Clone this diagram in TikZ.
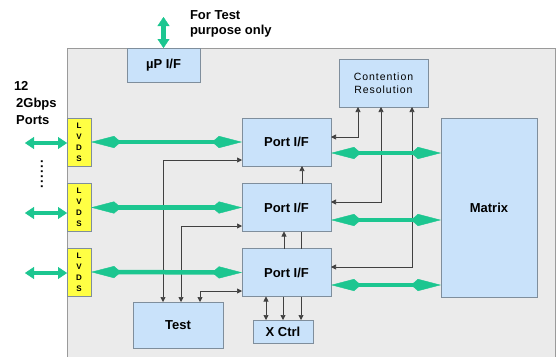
\documentclass[tikz,border=0pt]{standalone}
\usepackage{fontspec}
\setmainfont{Liberation Sans}
\usetikzlibrary{arrows.meta,calc}
\definecolor{bgc}{HTML}{EBEBEB}
\definecolor{bgline}{HTML}{9A9A9A}
\definecolor{boxfill}{HTML}{C9E2FA}
\definecolor{boxline}{HTML}{7F8E9C}
\definecolor{lvdsfill}{HTML}{FFFF44}
\definecolor{gr}{HTML}{1CC690}
\definecolor{tline}{HTML}{404040}
\begin{document}
\begin{tikzpicture}[x=1pt,y=-1pt,
  box/.style={draw=boxline,fill=boxfill,line width=0.8pt,inner sep=0pt,outer sep=0pt,
    font=\bfseries\fontsize{13}{14}\selectfont},
  lvds/.style={draw=boxline,fill=lvdsfill,line width=0.8pt,inner sep=0pt,outer sep=0pt,
    minimum width=24pt,minimum height=48pt,align=center,
    font=\bfseries\fontsize{8}{11}\selectfont},
  lbl/.style={inner sep=0pt,outer sep=0pt,align=left,font=\bfseries\fontsize{13}{14.5}\selectfont},
  gin/.style={draw=gr,line width=4.5pt,
    {Kite[length=30pt,width=12pt,inset=7pt,line width=0.4pt,fill=gr]}-{Kite[length=30pt,width=12pt,inset=7pt,line width=0.4pt,fill=gr]}},
  gout/.style={draw=gr,line width=4.5pt,
    {Triangle[length=9pt,width=12pt,line width=0.4pt,fill=gr]}-{Triangle[length=9pt,width=12pt,line width=0.4pt,fill=gr]}},
  tl/.style={draw=tline,line width=0.7pt},
  tip/.style={-{Triangle[length=5pt,width=5pt]}},
  tips/.style={{Triangle[length=5pt,width=5pt]}-{Triangle[length=5pt,width=5pt]}}
]
\useasboundingbox (0,0) rectangle (556,356);
\path[fill=bgc,draw=bgline,line width=0.8pt] (67,48) rectangle (555,362);

% boxes
\node[box,minimum width=73pt,minimum height=34pt] (mu) at (163.5,65) {µP I/F};
\node[box,minimum width=89pt,minimum height=48pt,align=center,
  font=\fontsize{10.5}{12.5}\selectfont\addfontfeatures{LetterSpace=9}] (cr) at (383.5,83) {Contention\\Resolution};
\node[box,minimum width=89pt,minimum height=48pt] (p1) at (286.5,142) {Port I/F};
\node[box,minimum width=89pt,minimum height=48pt] (p2) at (286.5,207.5) {Port I/F};
\node[box,minimum width=89pt,minimum height=48pt] (p3) at (286.5,272.5) {Port I/F};
\node[box,minimum width=96pt,minimum height=179pt] (mx) at (489,207.5) {Matrix};
\node[box,minimum width=90pt,minimum height=46pt] (test) at (178,325) {Test};
\node[box,minimum width=60pt,minimum height=23pt] (xc) at (283,331.5) {X Ctrl};
\node[lvds] (l1) at (79,142) {L\\V\\D\\S};
\node[lvds] (l2) at (79,207.5) {L\\V\\D\\S};
\node[lvds] (l3) at (79,272) {L\\V\\D\\S};

% labels
\node[lbl,anchor=north west] (note) at (190,11) {For Test\\purpose only};
\node[lbl,anchor=north west,font=\bfseries\fontsize{13}{17}\selectfont] (ports) at (14,81) {12\\\,2Gbps\\\,Ports};
\node[rotate=90,inner sep=0pt,font=\bfseries\fontsize{13}{13}\selectfont\addfontfeatures{LetterSpace=10}] (dots) at (42,174) {......};

% coordinates for free ends
\coordinate (mutop) at (163.5,17);
\coordinate (e1) at (25,143);
\coordinate (e2) at (25,213);
\coordinate (e3) at (25,273);

% thin connectors (behind green arrows)
\draw[tl,tips] ([xshift=-25.5pt]cr.south) |- ([yshift=5pt]p1.east);
\draw[tl,tips] ([xshift=-2.5pt]cr.south) |- ([yshift=5.5pt]p2.east);
\draw[tl,tips] ([xshift=28.5pt]cr.south) |- ([yshift=5.5pt]p3.east);
\draw[tl,tip] ([xshift=15.5pt]p2.north) -- ([xshift=15.5pt]p1.south);
\draw[tl,tip] ([xshift=-2.5pt]p3.north) -- ([xshift=-2.5pt]p2.south);
\draw[tl] ([xshift=14.5pt]p3.north) -- ([xshift=14.5pt]p2.south);
\draw[tl,tips] ([xshift=-20.5pt]p3.south) -- ([xshift=-20.5pt]p3.south |- xc.north);
\draw[tl,tip] ([xshift=-3.5pt]p3.south) -- ([xshift=-3.5pt]p3.south |- xc.north);
\draw[tl,tip] ([xshift=14.5pt]p3.south) -- ([xshift=14.5pt]p3.south |- xc.north);
\draw[tl,tips] ([xshift=-15pt]test.north) |- ([yshift=-18pt]p1.west);
\draw[tl,tips] ([xshift=3pt]test.north) |- ([yshift=-18.5pt]p2.west);
\draw[tl,tips] ([xshift=22pt]test.north) |- ([yshift=-18.5pt]p3.west);

% green buses
\draw[gout] (mutop) -- (mu.north);
\draw[gout] (e1) -- (l1.west |- e1);
\draw[gout] (e2) -- (l2.west |- e2);
\draw[gout] (e3) -- (l3.west |- e3);
\draw[gin] (l1.east) -- (p1.west);
\draw[gin] (l2.east) -- (p2.west);
\draw[gin] (l3.east) -- (p3.west);
\draw[gin] ([yshift=-11pt]p1.east) -- ([yshift=-11pt]p1.east -| mx.west);
\draw[gin] ([yshift=-12.5pt]p2.east) -- ([yshift=-12.5pt]p2.east -| mx.west);
\draw[gin] ([yshift=-12.5pt]p3.east) -- ([yshift=-12.5pt]p3.east -| mx.west);
\end{tikzpicture}
\end{document}
